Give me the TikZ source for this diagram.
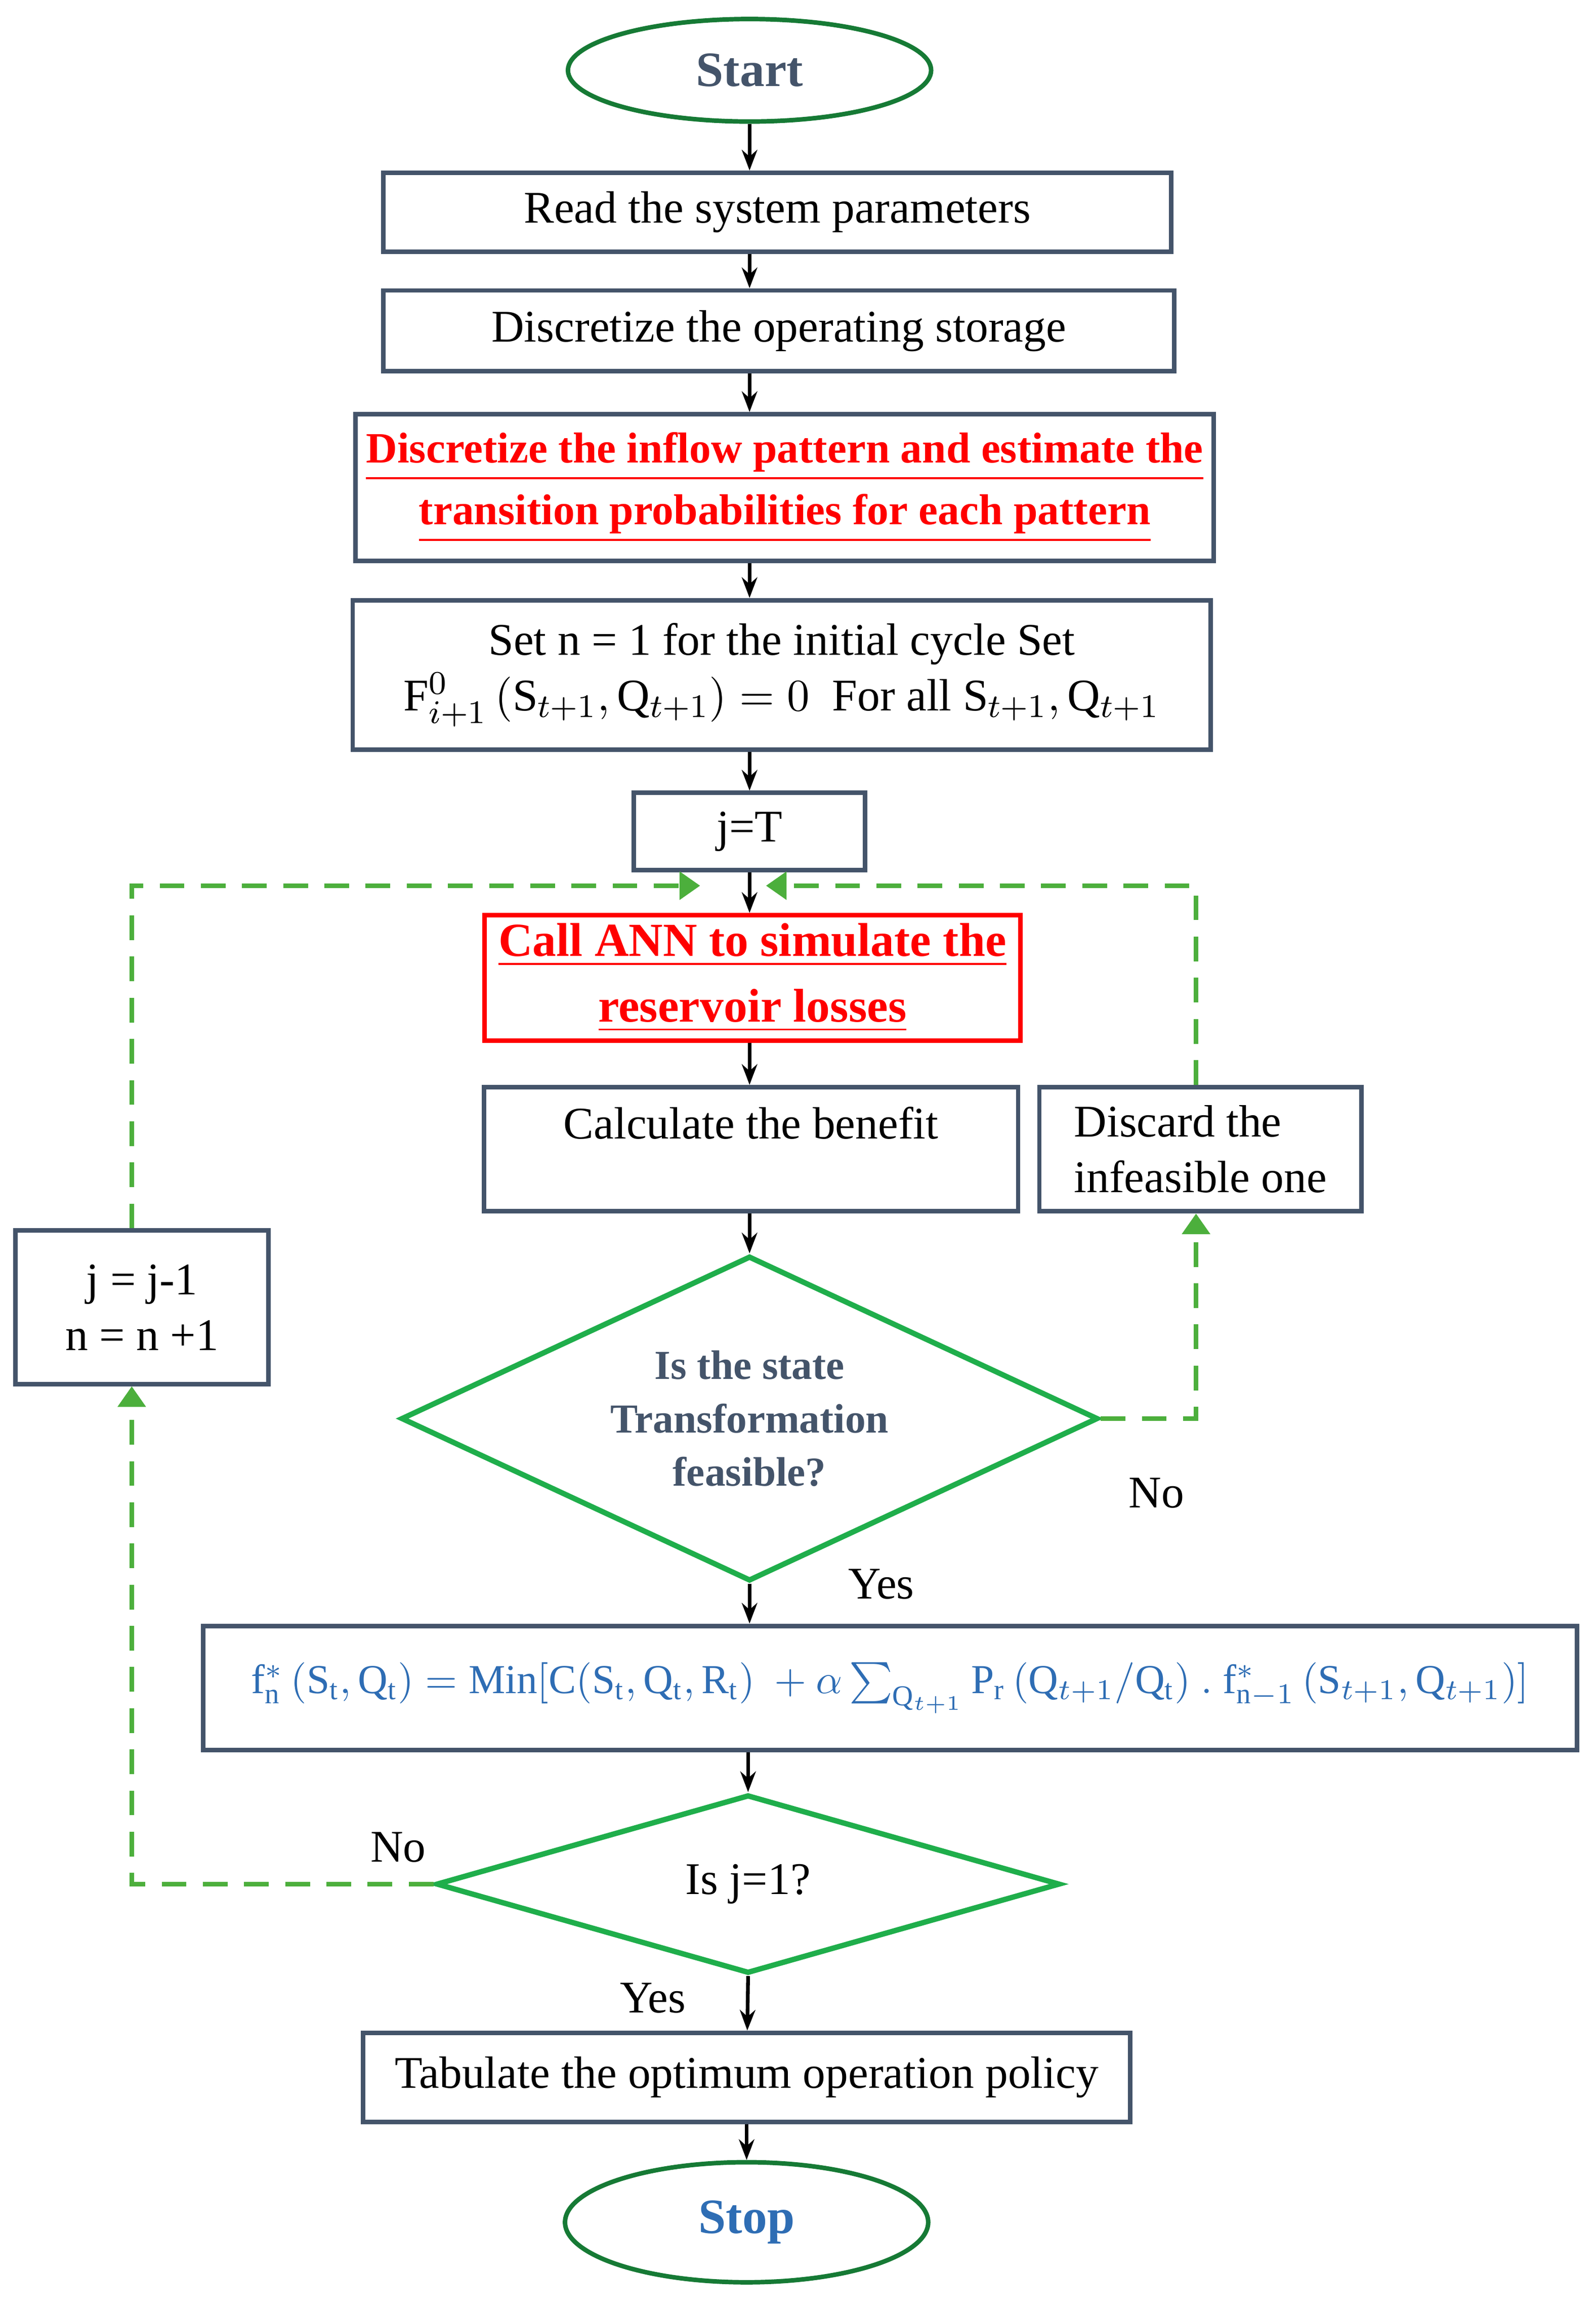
\documentclass[tikz,border=0pt]{standalone}
\usepackage{fontspec}
\setmainfont{Liberation Serif}
\usepackage{amsmath}
\usetikzlibrary{shapes.geometric,arrows.meta}
\definecolor{boxgray}{HTML}{44546A}
\definecolor{flowgreen}{HTML}{1FAE4B}
\definecolor{dashgreen}{HTML}{4CAF3C}
\definecolor{formblue}{HTML}{2E6DB4}
\begin{document}
\begin{tikzpicture}[x=0.0125cm,y=-0.0125cm,font=\fontsize{11}{13.5}\selectfont,
 box/.style={draw=boxgray,line width=1.1pt,align=center,inner sep=2pt},
 redbox/.style={box,draw=red},
 term/.style={ellipse,draw=flowgreen!70!black,line width=1.1pt,minimum width=3.1cm,font=\fontsize{12}{14}\selectfont\bfseries},
 dec/.style={diamond,draw=flowgreen,line width=1.3pt,inner sep=0pt},
 arr/.style={-{Stealth[length=5pt]},line width=0.9pt},
 back/.style={-{Triangle[length=5pt]},dashgreen,dashed,line width=1.1pt,dash pattern=on 6pt off 4pt}]
\useasboundingbox (0,0) rectangle (1090,1580);
% terminals and boxes
\node[term,minimum height=0.875cm,text=boxgray] (start) at (512,48) {Start};
\node[box,minimum width=6.725cm,minimum height=0.675cm] (read) at (531,145) {Read the system parameters};
\node[box,minimum width=6.75cm,minimum height=0.69cm] (stor) at (532,226) {Discretize the operating storage};
\node[box,minimum width=7.325cm,minimum height=1.25cm,text=red,font=\fontsize{10.5}{15}\selectfont\bfseries] (inflow) at (536,333)
 {\underline{Discretize the inflow pattern and estimate the}\\\underline{transition probabilities for each pattern}};
\node[box,minimum width=7.325cm,minimum height=1.275cm] (init) at (534,461)
 {Set n = 1 for the initial cycle Set\\$\mathrm{F}^{0}_{i+1}\left(\mathrm{S}_{t+1},\mathrm{Q}_{t+1}\right)=0$\ \ For all $\mathrm{S}_{t+1},\mathrm{Q}_{t+1}$};
\node[box,minimum width=1.975cm,minimum height=0.66cm] (jT) at (512,568) {j=T};
\node[redbox,minimum width=4.575cm,minimum height=1.06cm,text=red,font=\fontsize{11.5}{16}\selectfont\bfseries] (ann) at (514,668)
 {\underline{Call ANN to simulate the}\\\underline{reservoir losses}};
\node[box,minimum width=4.56cm,minimum height=1.06cm,text depth=0.45cm] (calc) at (513,785) {Calculate the benefit};
\node[box,minimum width=2.75cm,minimum height=1.06cm,align=left] (disc) at (820,785) {Discard the\\infeasible one};
\node[box,minimum width=2.16cm,minimum height=1.31cm] (jdec) at (97,893) {j = j-1\\n = n +1};
\node[dec,minimum width=5.95cm,minimum height=2.775cm] (feas) at (512,969) {};
\node[text=boxgray,align=center,font=\fontsize{10}{13}\selectfont\bfseries] (feastext) at (feas) {Is the state\\Transformation\\feasible?};
\node[box,minimum width=11.725cm,minimum height=1.06cm,text=formblue,font=\fontsize{10}{12}\selectfont] (form) at (608,1153)
 {$\mathrm{f}^{*}_{\mathrm{n}}\left(\mathrm{S}_{\mathrm{t}},\mathrm{Q}_{\mathrm{t}}\right)=\mathrm{Min}[\mathrm{C}(\mathrm{S}_{\mathrm{t}},\mathrm{Q}_{\mathrm{t}},\mathrm{R}_{\mathrm{t}})\ +\alpha\sum_{\mathrm{Q}_{t+1}}\mathrm{P}_{\mathrm{r}}\,(\mathrm{Q}_{t+1}/\mathrm{Q}_{\mathrm{t}})\ .\ \mathrm{f}^{*}_{\mathrm{n}-1}\left(\mathrm{S}_{t+1},\mathrm{Q}_{t+1}\right)]$};
\node[dec,minimum width=5.325cm,minimum height=1.525cm] (jone) at (511,1287) {};
\node (jonetext) at (jone) {Is j=1?};
\node[box,minimum width=6.55cm,minimum height=0.76cm] (tab) at (510,1419) {Tabulate the optimum operation policy};
\node[term,minimum height=1.025cm,text=formblue] (stop) at (510,1518) {Stop};
% labels
\node (no1) at (790,1020) {No};
\node (yes1) at (602,1082) {Yes};
\node (no2) at (272,1262) {No};
\node (yes2) at (446,1365) {Yes};
% main flow
\draw[arr] (start) -- (read.north -| start);
\draw[arr] (read.south -| start) -- (stor.north -| start);
\draw[arr] (stor.south -| start) -- (inflow.north -| start);
\draw[arr] (inflow.south -| jT) -- (init.north -| jT);
\draw[arr] (init.south -| jT) -- (jT);
\draw[arr] (jT) -- (ann.north -| jT);
\draw[arr] (ann.south -| jT) -- (calc.north -| jT);
\draw[arr] (calc.south -| jT) -- (feas.north);
\draw[arr] (feas.south) -- (form.north -| feas.south);
\draw[arr] (form.south -| jone) -- (jone.north);
\draw[arr] (jone.south) -- (tab);
\draw[arr] (tab) -- (stop);
% loops
\coordinate (top) at (512,605);
\draw[back] (jdec.north -| 90,0) |- ([xshift=-12]top);
\draw[back] (disc.north -| 817,0) |- ([xshift=4]top);
\draw[back] (feas.east) -| (disc.south -| 817,0);
\draw[back] (jone.west) -| (jdec.south -| 90,0);
\end{tikzpicture}
\end{document}
